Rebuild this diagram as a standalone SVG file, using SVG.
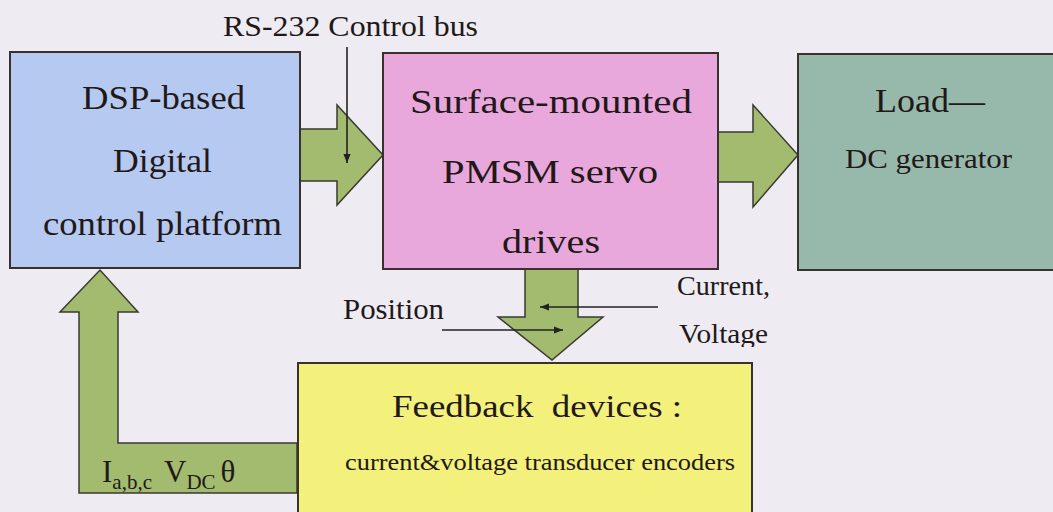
<svg xmlns="http://www.w3.org/2000/svg" width="1053" height="512" viewBox="0 0 1053 512">
<style>
.box{stroke:#3a3030;stroke-width:2}
.arr{fill:#a3bb6e;stroke:#3a3a30;stroke-width:1.5;stroke-linejoin:miter}
.t{font-family:"Liberation Serif","Times New Roman",serif;fill:#221818}
.ln{stroke:#222;stroke-width:1.6;fill:none}
</style>
<defs>
<marker id="ah" viewBox="0 0 10 10" refX="10" refY="5" markerWidth="9" markerHeight="9" orient="auto" markerUnits="userSpaceOnUse">
<path d="M0,1 L10,5 L0,9 Z" fill="#222"/>
</marker>
<clipPath id="vclip"><rect x="0" y="0" width="1053" height="347"/></clipPath>
</defs>
<rect width="1053" height="512" fill="#eeebf3"/>

<g id="connectors">
<path class="arr" d="M300,129 L337,129 L337,105 L383,155 L337,205 L337,181 L300,181 Z"/>
<path class="arr" d="M718,132 L753,132 L753,105 L798,155 L753,207 L753,182 L718,182 Z"/>
<path class="arr" d="M525,269 L578,269 L578,317 L603,317 L552,360 L498,317 L525,317 Z"/>
<path class="arr" d="M297,443 L118,443 L118,312 L138,312 L100,270 L60,312 L79,312 L79,493 L297,493 Z"/>
<line class="ln" x1="347" y1="47" x2="347" y2="163" marker-end="url(#ah)"/>
<line class="ln" x1="658" y1="307" x2="540" y2="307" marker-end="url(#ah)"/>
<line class="ln" x1="442" y1="330" x2="563" y2="330" marker-end="url(#ah)"/>
</g>

<g id="node-dsp">
<rect class="box" x="10" y="52" width="290" height="216" fill="#b6c9f1"/>
<text class="t" x="82" y="109" font-size="33" textLength="163" lengthAdjust="spacingAndGlyphs">DSP-based</text>
<text class="t" x="113" y="172" font-size="33" textLength="99" lengthAdjust="spacingAndGlyphs">Digital</text>
<text class="t" x="43" y="235" font-size="33" textLength="239" lengthAdjust="spacingAndGlyphs">control platform</text>
</g>

<g id="node-pmsm">
<rect class="box" x="383" y="53" width="335" height="216" fill="#e9a8dc"/>
<text class="t" x="410" y="113" font-size="33" textLength="282" lengthAdjust="spacingAndGlyphs">Surface-mounted</text>
<text class="t" x="442" y="183" font-size="33" textLength="216" lengthAdjust="spacingAndGlyphs">PMSM servo</text>
<text class="t" x="502" y="253" font-size="33" textLength="98" lengthAdjust="spacingAndGlyphs">drives</text>
</g>

<g id="node-load">
<rect class="box" x="798" y="54" width="262" height="216" fill="#97b9ab"/>
<text class="t" x="875" y="112" font-size="33" textLength="110" lengthAdjust="spacingAndGlyphs">Load—</text>
<text class="t" x="845" y="168" font-size="27" textLength="167" lengthAdjust="spacingAndGlyphs">DC generator</text>
</g>

<g id="node-feedback">
<rect class="box" x="298" y="363" width="454" height="160" fill="#f3f07c"/>
<text class="t" x="392" y="417" font-size="32" textLength="290" lengthAdjust="spacingAndGlyphs" xml:space="preserve">Feedback  devices :</text>
<text class="t" x="345" y="470" font-size="23" textLength="390" lengthAdjust="spacingAndGlyphs">current&amp;voltage transducer encoders</text>
</g>

<g id="labels">
<text class="t" x="223" y="36" font-size="29" textLength="255" lengthAdjust="spacingAndGlyphs">RS-232 Control bus</text>
<text class="t" x="343" y="319" font-size="29" textLength="101" lengthAdjust="spacingAndGlyphs">Position</text>
<text class="t" x="677" y="295" font-size="27" textLength="93" lengthAdjust="spacingAndGlyphs">Current,</text>
<text class="t" x="679" y="343" font-size="27" textLength="89" lengthAdjust="spacingAndGlyphs" clip-path="url(#vclip)">Voltage</text>
<text class="t" x="102" y="482" font-size="31">I<tspan font-size="21" dy="7">a,b,c</tspan><tspan dx="12" dy="-7">V</tspan><tspan font-size="21" dy="7">DC</tspan><tspan dx="5" dy="-7">θ</tspan></text>
</g>
</svg>
